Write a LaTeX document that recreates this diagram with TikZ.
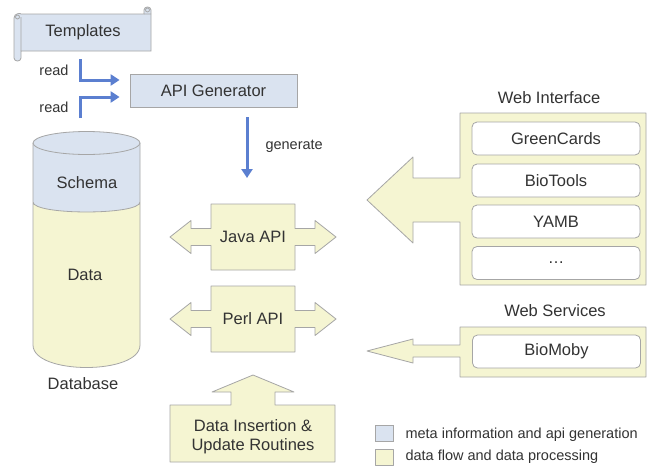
\documentclass[tikz,border=0pt]{standalone}
\usepackage{fontspec}
\setmainfont{Liberation Sans}
\usetikzlibrary{arrows.meta}
\definecolor{metablue}{HTML}{DAE3F0}
\definecolor{datayellow}{HTML}{F5F5D2}
\definecolor{edgegray}{HTML}{A6A6A6}
\definecolor{flowblue}{HTML}{5B7FD0}
\definecolor{inkgray}{HTML}{333333}
\tikzset{
  metafill/.style={fill=metablue, draw=edgegray, line width=0.8pt},
  datafill/.style={fill=datayellow, draw=edgegray, line width=0.8pt, line join=round},
  toolbox/.style={fill=white, draw=edgegray, line width=0.8pt, rounded corners=5pt,
    minimum width=168pt, minimum height=33pt},
  flow/.style={draw=flowblue, line width=3pt, -{Triangle[length=9pt,width=11pt]}},
  lbl/.style={font=\fontsize{16.5}{19}\selectfont, text=inkgray},
  small/.style={font=\fontsize{14.5}{17}\selectfont, text=inkgray},
  api block/.pic={
    \filldraw[datafill] (-42,-33) -- (42,-33) -- (42,-8.5) -- (62,-8.5) -- (62,-16.5) -- (83,0)
      -- (62,16.5) -- (62,8.5) -- (42,8.5) -- (42,33) -- (-42,33) -- (-42,8.5) -- (-62,8.5)
      -- (-62,16.5) -- (-83,0) -- (-62,-16.5) -- (-62,-8.5) -- (-42,-8.5) -- cycle;
    \node[lbl] (-name) at (0,0) {#1};
  }
}
\begin{document}
\begin{tikzpicture}[x=1pt,y=-1pt]
  \useasboundingbox[fill=white] (0,0) rectangle (647,466);

  % templates scroll
  \filldraw[metafill] (14,18) .. controls (14,13) and (21,13) .. (21,14) -- (144,14) -- (144,10)
    .. controls (144,6) and (151,6) .. (151,10) -- (151,51) -- (21,51) -- (21,58)
    .. controls (21,62) and (14,62) .. (14,58) -- cycle;
  \draw[edgegray, line width=0.8pt] (17.5,17) circle (2pt) (147.5,10) circle (2pt)
    (21,17) -- (21,51) (144,14) -- (151,14);
  \node[lbl] (tpl) at (83,32) {Templates};

  \node[metafill, lbl, minimum width=167pt, minimum height=33pt] (api) at (213.5,90.5) {API Generator};

  % database
  \fill[metablue] (33,143) -- (33,202) .. controls (33,215.3) and (140,215.3) .. (140,202)
    -- (140,143) .. controls (140,128) and (33,128) .. (33,143) -- cycle;
  \fill[datayellow] (33,202) .. controls (33,215.3) and (140,215.3) .. (140,202)
    -- (140,345) .. controls (140,375) and (33,375) .. (33,345) -- cycle;
  \draw[edgegray, line width=0.8pt] (33,143) -- (33,345) .. controls (33,375) and (140,375) .. (140,345)
    -- (140,143) (33,202) .. controls (33,215.3) and (140,215.3) .. (140,202);
  \draw[metafill] (86.5,143) ellipse [x radius=53.5pt, y radius=11.5pt];
  \node[lbl] (schema) at (87,183) {Schema};
  \node[lbl] (data) at (85,275) {Data};
  \node[lbl] (db) at (83,384) {Database};

  % generation flow
  \coordinate (read1) at (80,59);
  \coordinate (read2) at (80,118);
  \coordinate (gen) at (247,178);
  \draw[flow, shorten >=10pt] (read1) |- ([yshift=10.5pt]api.west);
  \draw[flow, shorten >=10pt] (read2) |- ([yshift=-6.5pt]api.west);
  \draw[flow, shorten <=10pt] ([xshift=33.5pt]api.south) -- (gen);
  \node[small] (r1) at (54,70) {read};
  \node[small] (r2) at (54,107) {read};
  \node[small, anchor=west] (gl) at (262,146) {generate};

  \pic (java) at (253,237) {api block=Java API};
  \pic (perl) at (253,319) {api block=Perl API};

  % data insertion
  \filldraw[datafill] (170,405) -- (231,405) -- (231,392) -- (212,392) -- (253,375) -- (294,392)
    -- (275,392) -- (275,405) -- (335,405) -- (335,462) -- (170,462) -- cycle;
  \node[lbl, align=center] (ins) at (253,436.5) {Data Insertion \&\\Update Routines};

  % web interface
  \filldraw[datafill] (460,113) -- (646,113) -- (646,285) -- (460,285) -- (460,222) -- (413,222)
    -- (413,243) -- (367,200) -- (413,157) -- (413,178) -- (460,178) -- cycle;
  \node[lbl] (wi) at (549,98) {Web Interface};
  \node[toolbox, lbl] (gc) at (556,138.5) {GreenCards};
  \node[toolbox, lbl] (bt) at (556,180.5) {BioTools};
  \node[toolbox, lbl] (ym) at (556,221.5) {YAMB};
  \node[toolbox, lbl] (more) at (556,263) {\ldots};

  % web services
  \filldraw[datafill] (460,327) -- (646,327) -- (646,377) -- (460,377) -- (460,357) -- (413,357)
    -- (413,363) -- (367,351) -- (413,339) -- (413,345) -- (460,345) -- cycle;
  \node[lbl] (ws) at (555,311) {Web Services};
  \node[toolbox, lbl] (bm) at (556.5,351.5) {BioMoby};

  % legend
  \filldraw[metafill] (375,425) rectangle (393,441);
  \filldraw[datafill] (375,449) rectangle (393,465);
  \node[small, anchor=west] (lg1) at (402,435) {meta information and api generation};
  \node[small, anchor=west] (lg2) at (402,457) {data flow and data processing};
\end{tikzpicture}
\end{document}
